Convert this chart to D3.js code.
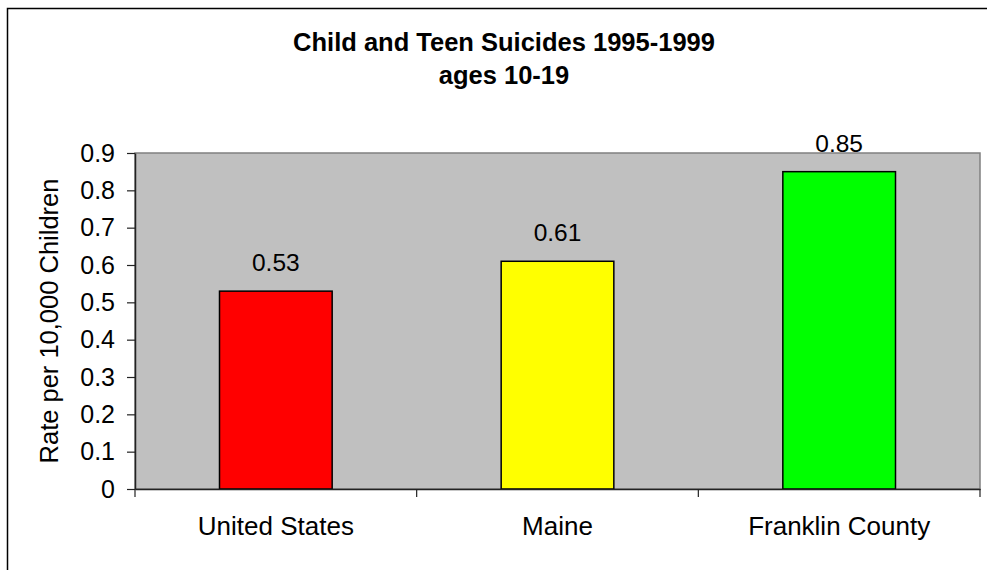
<!DOCTYPE html>
<html>
<head>
<meta charset="utf-8">
<script src="https://cdn.jsdelivr.net/npm/d3@7"></script>
<style>
  body { margin: 0; background: #fff; }
  text { font-family: "Liberation Sans", Arial, sans-serif; fill: #000; }
</style>
</head>
<body>
<div id="chart"></div>
<script>
//----------------------------------------------------------------
// data
var categories = ["United States", "Maine", "Franklin County"];
var rates = [0.53, 0.61, 0.85];
var barColors = ["#ff0000", "#ffff00", "#00ff00"];
var yTicks = [0, 0.1, 0.2, 0.3, 0.4, 0.5, 0.6, 0.7, 0.8, 0.9];
var titleLines = ["Child and Teen Suicides 1995-1999", "ages 10-19"];
var yTitle = "Rate per 10,000 Children";

//----------------------------------------------------------------
// svg
var largeur = 987, hauteur = 570;
var svg = d3.select("#chart")
  .append("svg")
  .attr("width", largeur)
  .attr("height", hauteur);

// outer chart frame (runs off the right and bottom)
svg.append("rect")
  .attr("x", 7.5).attr("y", 8.5)
  .attr("width", 1100).attr("height", 700)
  .attr("fill", "#fff")
  .attr("stroke", "#000")
  .attr("stroke-width", 1.5);

var plot = { left: 135, top: 153, right: 980, bottom: 489 };

var x = d3.scaleBand()
  .domain(categories)
  .range([plot.left, plot.right])
  .paddingInner(0.6)
  .paddingOuter(0.3);

var xOuter = d3.scaleBand()
  .domain(categories)
  .range([plot.left, plot.right]);

var y = d3.scaleLinear()
  .domain([0, 0.9])
  .range([plot.bottom, plot.top]);

//----------------------------------------------------------------
// plot area
svg.append("rect")
  .attr("x", plot.left).attr("y", plot.top)
  .attr("width", plot.right - plot.left)
  .attr("height", plot.bottom - plot.top)
  .attr("fill", "#c0c0c0")
  .attr("stroke", "#808080")
  .attr("stroke-width", 1.5);

// bars
svg.selectAll(".bar")
  .data(rates)
  .enter()
  .append("rect")
  .attr("class", "bar")
  .attr("x", function(d, i) { return x(categories[i]); })
  .attr("y", function(d) { return y(d); })
  .attr("width", x.bandwidth())
  .attr("height", function(d) { return y(0) - y(d); })
  .attr("fill", function(d, i) { return barColors[i]; })
  .attr("stroke", "#000")
  .attr("stroke-width", 1.5);

// value labels
svg.selectAll(".val")
  .data(rates)
  .enter()
  .append("text")
  .attr("class", "val")
  .attr("x", function(d, i) { return x(categories[i]) + x.bandwidth() / 2; })
  .attr("y", function(d) { return y(d) - 20; })
  .attr("text-anchor", "middle")
  .style("font-size", "24.5px")
  .text(function(d) { return d.toFixed(2); });

//----------------------------------------------------------------
// y axis
var yAxis = d3.axisLeft(y)
  .tickValues(yTicks)
  .tickFormat(d3.format("~g"))
  .tickSizeInner(8)
  .tickSizeOuter(0)
  .tickPadding(12);

var gy = svg.append("g")
  .attr("transform", "translate(" + plot.left + ",0)")
  .call(yAxis);
gy.select(".domain").attr("stroke", "#222").attr("stroke-width", 1.5);
gy.selectAll(".tick line").attr("stroke", "#222").attr("stroke-width", 1.2);
gy.selectAll(".tick text")
  .style("font-size", "25px")
  .style("font-family", "Liberation Sans, Arial, sans-serif")
  .attr("fill", "#000");

// x axis
var xAxis = d3.axisBottom(xOuter)
  .tickSize(0)
  .tickPadding(28);

var gx = svg.append("g")
  .attr("transform", "translate(0," + plot.bottom + ")")
  .call(xAxis);
gx.select(".domain").attr("stroke", "#222").attr("stroke-width", 1.5);
gx.selectAll(".tick text")
  .style("font-size", "26px")
  .style("font-family", "Liberation Sans, Arial, sans-serif")
  .attr("fill", "#000");

// tick marks between categories
var edges = categories.map(function(c) { return xOuter(c); }).concat([plot.right]);
gx.selectAll(".edge")
  .data(edges)
  .enter()
  .append("line")
  .attr("class", "edge")
  .attr("x1", function(d) { return d; })
  .attr("x2", function(d) { return d; })
  .attr("y1", 0).attr("y2", 8)
  .attr("stroke", "#222")
  .attr("stroke-width", 1.2);

//----------------------------------------------------------------
// titles
svg.selectAll(".title")
  .data(titleLines)
  .enter()
  .append("text")
  .attr("class", "title")
  .attr("x", 504)
  .attr("y", function(d, i) { return 51 + i * 33; })
  .attr("text-anchor", "middle")
  .style("font-size", "25.5px")
  .style("font-weight", "bold")
  .text(function(d) { return d; });

svg.append("text")
  .attr("transform", "translate(58," + ((plot.top + plot.bottom) / 2) + ") rotate(-90)")
  .attr("text-anchor", "middle")
  .style("font-size", "25.5px")
  .text(yTitle);
</script>
</body>
</html>
